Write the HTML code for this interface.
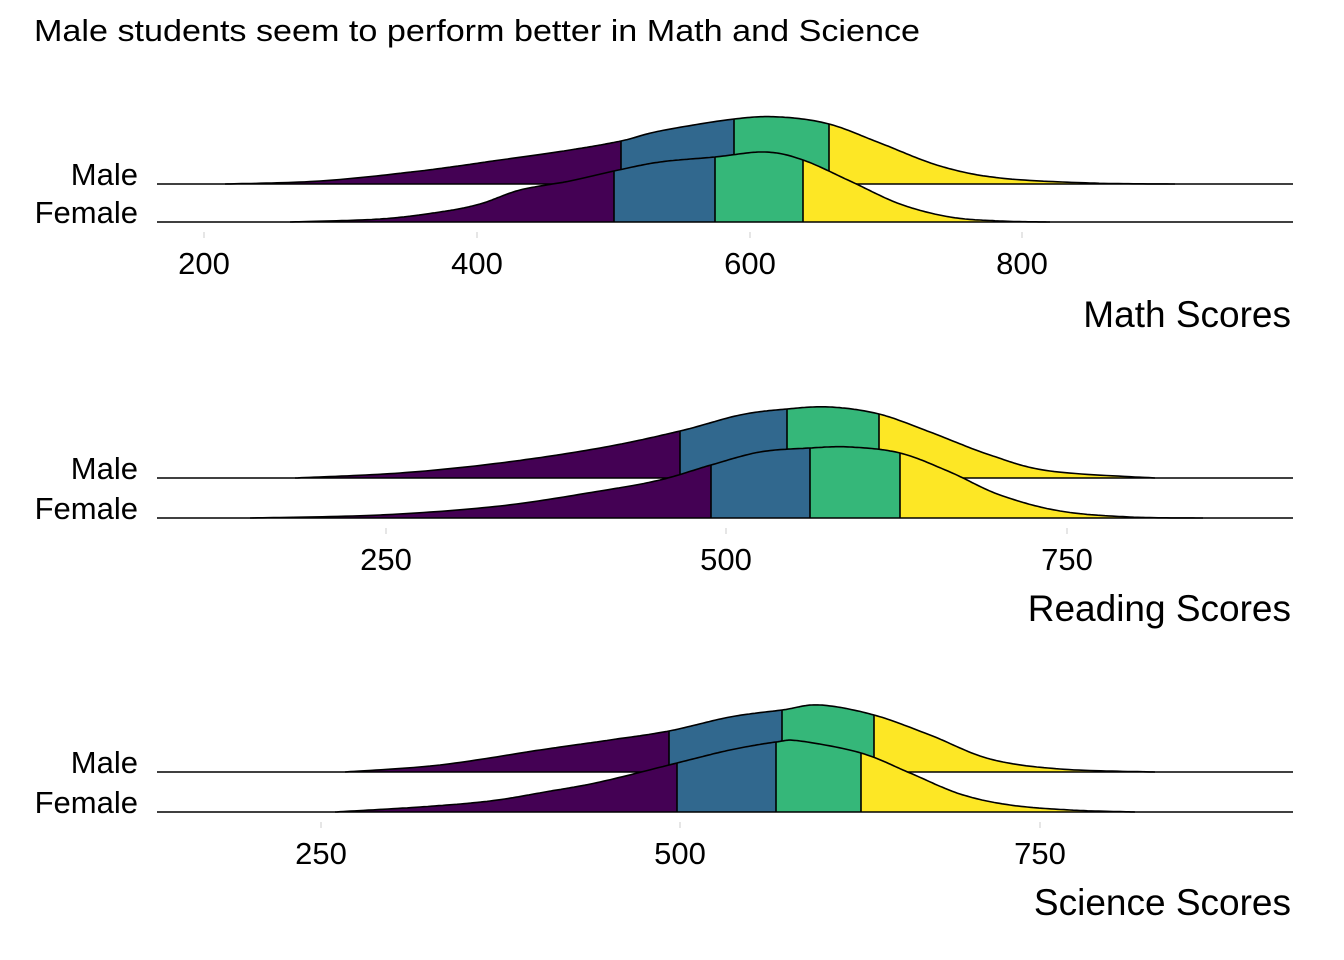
<!DOCTYPE html>
<html><head><meta charset="utf-8"><style>
html,body{margin:0;padding:0;background:#fff}
svg{display:block;font-family:"Liberation Sans",Arial,sans-serif}
</style></head><body>
<svg id="s" width="1344" height="960" viewBox="0 0 1344 960" xmlns="http://www.w3.org/2000/svg">
<rect width="1344" height="960" fill="#fff"/>
<text x="34" y="41" font-size="31" fill="#000" textLength="886" lengthAdjust="spacingAndGlyphs">Male students seem to perform better in Math and Science</text>
<g id="g"></g>
</svg>
<script>
const cols=["#440154","#31688E","#35B779","#FDE725"];
const g=document.getElementById("g");
const NS="http://www.w3.org/2000/svg";
function el(t,a,txt){const e=document.createElementNS(NS,t);for(const k in a)e.setAttribute(k,a[k]);if(txt!=null)e.textContent=txt;g.appendChild(e);return e;}
function cr(pts){
 const out=[];
 for(let i=0;i<pts.length-1;i++){
  const p0=pts[Math.max(0,i-1)],p1=pts[i],p2=pts[i+1],p3=pts[Math.min(pts.length-1,i+2)];
  for(let t=0;t<1;t+=0.05){
   const t2=t*t,t3=t2*t;
   const f=(a,b,c,d)=>0.5*((2*b)+(-a+c)*t+(2*a-5*b+4*c-d)*t2+(-a+3*b-3*c+d)*t3);
   out.push([f(p0[0],p1[0],p2[0],p3[0]),f(p0[1],p1[1],p2[1],p3[1])]);
  }
 }
 out.push(pts[pts.length-1]);return out;
}
function yAt(s,x){for(let i=0;i<s.length-1;i++){if(s[i][0]<=x&&s[i+1][0]>=x){const t=(x-s[i][0])/((s[i+1][0]-s[i][0])||1);return s[i][1]+t*(s[i+1][1]-s[i][1]);}}return s[s.length-1][1];}
function ridge(base,pts,q){
 const s=cr(pts);
 const xs=[pts[0][0],...q,pts[pts.length-1][0]];
 for(let k=0;k<4;k++){
  const a=xs[k],b=xs[k+1];
  let d=`M${a},${base} L${a},${yAt(s,a)}`;
  s.forEach(p=>{if(p[0]>a&&p[0]<b)d+=` L${p[0].toFixed(1)},${p[1].toFixed(1)}`});
  d+=` L${b},${yAt(s,b)} L${b},${base} Z`;
  el("path",{d,fill:cols[k],stroke:"none"});
 }
 el("path",{d:"M"+s.map(p=>p[0].toFixed(1)+","+p[1].toFixed(1)).join(" L"),fill:"none",stroke:"#000","stroke-width":1.6});
 q.forEach(x=>el("line",{x1:x,x2:x,y1:base,y2:yAt(s,x),stroke:"#000","stroke-width":1.6}));
 el("line",{x1:157,x2:1293,y1:base,y2:base,stroke:"#000","stroke-width":1.6});
}
function panel(mb,fb,male,mq,fem,fq,ticks,title,ty){
 ticks.forEach(t=>{el("line",{x1:t[1],x2:t[1],y1:fb+10,y2:fb+16,stroke:"#ccc","stroke-width":1});
  el("text",{x:t[1],y:fb+52,"font-size":31,"text-anchor":"middle"},t[0]);});
 ridge(mb,male,mq);ridge(fb,fem,fq);
 el("text",{x:138,y:mb+1,"font-size":31,"text-anchor":"end"},"Male");
 el("text",{x:138,y:fb+1,"font-size":31,"text-anchor":"end"},"Female");
 el("text",{x:1291,y:ty,"font-size":37,"text-anchor":"end"},title);
}
panel(184,222,
 [[225,184],[320,181],[420,171],[500,160],[570,150],[621,141],[660,131],[734,119],[780,117],[829,124],[880,143],[940,166],[1000,178],[1090,183],[1175,184]],
 [621,734,829],
 [[290,222],[380,219],[440,212],[480,204],[520,190],[570,181],[614,171],[660,162],[715,157],[765,152],[803,160],[850,181],[900,204],[950,217],[1000,221],[1050,222]],
 [614,715,803],
 [["200",204],["400",477],["600",750],["800",1022]],"Math Scores",327);
panel(478,518,
 [[295,478],[400,473],[500,463],[600,448],[680,431],[740,415],[787,409],[830,407],[879,414],[930,432],[990,455],[1050,471],[1155,478]],
 [680,787,879],
 [[250,518],[380,515],[500,506],[600,491],[660,480],[711,465],[760,452],[810,448],[850,447],[900,453],[950,472],[1000,495],[1060,511],[1130,517],[1203,518]],
 [711,810,900],
 [["250",386],["500",726],["750",1067]],"Reading Scores",621);
panel(772,812,
 [[345,772],[440,765],[540,750],[610,740],[669,731],[730,717],[782,710],[820,705],[874,715],[930,735],[990,759],[1060,769],[1155,772]],
 [669,782,874],
 [[335,812],[420,807],[490,801],[545,792],[600,782],[677,763],[730,750],[776,742],[800,741],[861,753],[910,773],[960,794],[1010,805],[1070,810],[1135,812]],
 [677,776,861],
 [["250",321],["500",680],["750",1040]],"Science Scores",915);
</script>
</body></html>
